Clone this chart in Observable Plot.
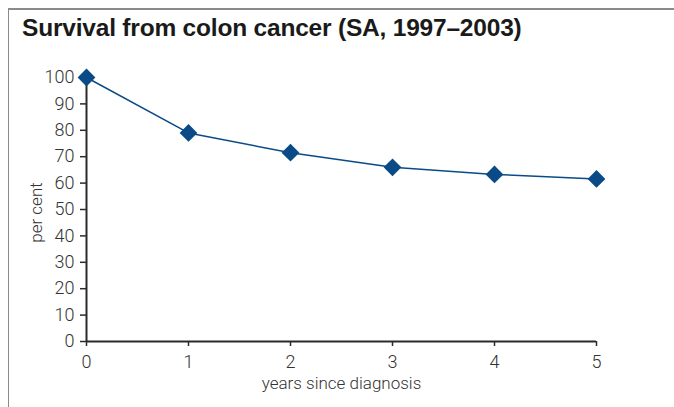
<!DOCTYPE html>
<html>
<head>
<meta charset="utf-8">
<script src="https://cdn.jsdelivr.net/npm/d3@7"></script>
<script src="https://cdn.jsdelivr.net/npm/@observablehq/plot@0.6"></script>
<style>
  html, body { margin: 0; padding: 0; background: #fff; }
  #page { position: relative; width: 674px; height: 407px; overflow: hidden; }
  #frame { position: absolute; left: 8px; top: 8px; right: -4px; bottom: -4px;
           border-top: 2px solid #8a8a8a; border-left: 1.5px solid #8a8a8a; }
  #title { position: absolute; left: 22px; top: 14px; font-family: "Liberation Sans", Arial, sans-serif;
           font-weight: bold; font-size: 24.5px; color: #1a1a1a; letter-spacing: -0.2px; white-space: nowrap; }
  #chart { position: absolute; left: 0; top: 50px; }
</style>
</head>
<body>
<div id="page">
  <div id="frame"></div>
  <div id="title">Survival from colon cancer (SA, 1997–2003)</div>
  <div id="chart"></div>
</div>
<script>
// Relative survival by years since diagnosis
const years = [0, 1, 2, 3, 4, 5];
const survival = [100, 79, 71.5, 66, 63.3, 61.6];
const yTicks = [0, 10, 20, 30, 40, 50, 60, 70, 80, 90, 100];
const xTicks = [0, 1, 2, 3, 4, 5];

const data = years.map((y, i) => ({year: y, pct: survival[i]}));

const navy = "#0a4a86";
const axisColor = "#2a2a2a";
const labelColor = "#333";
const font = "Roboto, 'Liberation Sans', sans-serif";

const plot = Plot.plot({
  width: 674,
  height: 357,
  marginLeft: 86,
  marginRight: 78,
  marginTop: 27,
  marginBottom: 66,
  style: {fontFamily: font, fontSize: "18px", fontWeight: 300, color: labelColor, overflow: "visible"},
  x: {domain: [0, 5], label: null},
  y: {domain: [0, 100], label: null},
  marks: [
    // tick marks from the axes; labels drawn as text marks
    Plot.axisY(yTicks, {tickSize: 6, text: null, stroke: axisColor, strokeWidth: 1.5}),
    Plot.axisX(xTicks, {tickSize: 5, text: null, stroke: axisColor, strokeWidth: 1.5}),
    Plot.text(yTicks, {x: 0, y: d => d, text: d => String(d), dx: -12, textAnchor: "end", fill: labelColor, fontSize: 18, letterSpacing: "0.3px"}),
    Plot.text(xTicks, {x: d => d, y: 0, text: d => String(d), dy: 21, fill: labelColor, fontSize: 18}),
    Plot.ruleX([0], {y1: 0, y2: 100, stroke: axisColor, strokeWidth: 2}),
    Plot.ruleY([0], {x1: 0, x2: 5, stroke: axisColor, strokeWidth: 2}),
    Plot.text(["years since diagnosis"], {frameAnchor: "bottom", dy: 47, fill: labelColor, fontSize: 17}),
    Plot.text(["per cent"], {frameAnchor: "left", textAnchor: "middle", dx: -50, dy: 3, rotate: -90, fill: labelColor, fontSize: 17}),
    Plot.line(data, {x: "year", y: "pct", stroke: navy, strokeWidth: 1.5}),
    Plot.dot(data, {x: "year", y: "pct", symbol: "diamond2", r: 8, fill: navy, stroke: "none"})
  ]
});
document.getElementById("chart").append(plot);
</script>
</body>
</html>
